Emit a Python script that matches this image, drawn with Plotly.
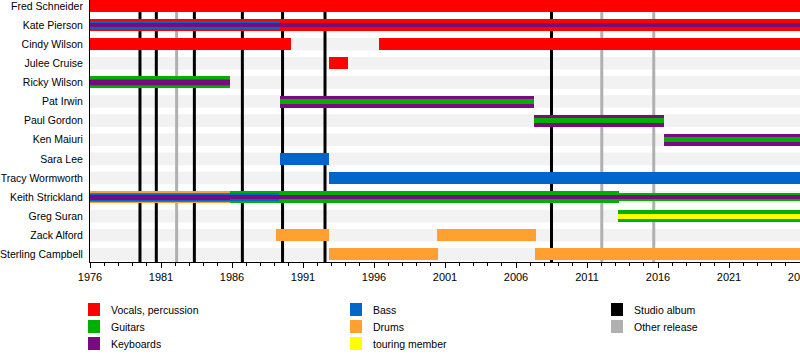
import plotly.graph_objects as go

# ---------------- data ----------------
members = ["Fred Schneider", "Kate Pierson", "Cindy Wilson", "Julee Cruise",
           "Ricky Wilson", "Pat Irwin", "Paul Gordon", "Ken Maiuri", "Sara Lee",
           "Tracy Wormworth", "Keith Strickland", "Greg Suran", "Zack Alford",
           "Sterling Campbell"]

stint_member = ["Fred Schneider", "Kate Pierson", "Kate Pierson", "Cindy Wilson",
                "Cindy Wilson", "Julee Cruise", "Ricky Wilson", "Pat Irwin",
                "Paul Gordon", "Ken Maiuri", "Sara Lee", "Tracy Wormworth",
                "Keith Strickland", "Keith Strickland", "Keith Strickland",
                "Keith Strickland", "Greg Suran", "Zack Alford", "Zack Alford",
                "Sterling Campbell", "Sterling Campbell"]
stint_start = [1976, 1976, 1989.4, 1976, 1996.35, 1992.8, 1976, 1989.4,
               2007.3, 2016.45, 1989.4, 1992.8, 1976, 1985.85, 1989.3,
               2013.25, 2013.2, 1989.1, 2000.45, 1992.8, 2007.35]
stint_end = [2026, 1989.4, 2026, 1990.15, 2026, 1994.15, 1985.85, 2007.3,
             2016.45, 2026, 1992.8, 2026, 1985.85, 1989.3, 2013.25,
             2026, 2026, 1992.8, 2007.4, 2000.5, 2026]
# roles listed from the outer stripe to the inner stripe
stint_roles = [["Vocals, percussion"],
               ["Vocals, percussion", "Bass", "Keyboards"],
               ["Vocals, percussion", "Keyboards"],
               ["Vocals, percussion"],
               ["Vocals, percussion"],
               ["Vocals, percussion"],
               ["Guitars", "Bass", "Keyboards"],
               ["Keyboards", "Guitars"],
               ["Keyboards", "Guitars"],
               ["Keyboards", "Guitars"],
               ["Bass"],
               ["Bass"],
               ["Drums", "Guitars", "Bass", "Keyboards"],
               ["Guitars", "Bass", "Keyboards"],
               ["Guitars", "Keyboards"],
               ["Guitars", "Keyboards"],
               ["Guitars", "touring member"],
               ["Drums"], ["Drums"], ["Drums"], ["Drums"]]
stint_studio_only = [False] * 15 + [True] + [False] * 5

studio_albums = [1979.52, 1980.67, 1983.35, 1986.73, 1989.56, 1992.55, 2008.5]
other_releases = [1982.1, 2012.04, 2015.7]

x_start, x_end = 1976, 2026
tick_years = list(range(1976, 2027, 5))
tick_labels = [str(y) for y in tick_years]

legend_cols = [["Vocals, percussion", "Guitars", "Keyboards"],
               ["Bass", "Drums", "touring member"],
               ["Studio album", "Other release"]]

# ---------------- styles ----------------
colors = {"Vocals, percussion": "#ff0000", "Guitars": "#00b000",
          "Keyboards": "#7a0a80", "Bass": "#0066cc", "Drums": "#ffa030",
          "touring member": "#ffff00", "Studio album": "#000000",
          "Other release": "#b0b0b0"}
layer_widths = {1: [0.63], 2: [0.63, 0.25], 3: [0.63, 0.38, 0.25],
                4: [0.63, 0.47, 0.37, 0.26]}
FONT = "Liberation Sans, Arial"
LABEL_SIZE = 10.5

row_of = {m: i for i, m in enumerate(members)}
n = len(members)
y_top, y_bottom = -0.314, n - 1 + 0.4

fig = go.Figure()

max_depth = max(len(r) for r in stint_roles)
for depth in range(max_depth):
    xs, ys, bases, cols, ws = [], [], [], [], []
    for m, s, e, roles, so in zip(stint_member, stint_start, stint_end,
                                  stint_roles, stint_studio_only):
        if depth >= len(roles):
            continue
        w = layer_widths[len(roles)][depth]
        if so:
            w = w * 0.6 if depth == 0 else w * 0.8
        xs.append(e - s)
        bases.append(s)
        ys.append(row_of[m])
        cols.append(colors[roles[depth]])
        ws.append(w)
    fig.add_trace(go.Bar(x=xs, y=ys, base=bases, orientation="h", width=ws,
                         marker=dict(color=cols, line=dict(width=0)),
                         showlegend=False, hoverinfo="skip"))

shapes = []
# row background bands
for i in range(n):
    shapes.append(dict(type="rect", xref="x", yref="y", x0=x_start, x1=x_end,
                       y0=i - 0.33, y1=i + 0.33, fillcolor="#f2f2f2",
                       line=dict(width=0), layer="below"))
for yr in other_releases:
    shapes.append(dict(type="line", xref="x", yref="y", x0=yr, x1=yr,
                       y0=y_top, y1=y_bottom,
                       line=dict(color=colors["Other release"], width=3),
                       layer="below"))
for yr in studio_albums:
    shapes.append(dict(type="line", xref="x", yref="y", x0=yr, x1=yr,
                       y0=y_top, y1=y_bottom,
                       line=dict(color=colors["Studio album"], width=3),
                       layer="below"))

# legend (pixel layout converted to paper coords)
PL, PT, PW, PH = 90, 0, 710, 262
def px2paper(px, py):
    return (px - PL) / PW, (PT + PH - py) / PH

annotations = []
col_x = [88, 350, 611]
row_y = [310, 327, 344]
for cx, items in zip(col_x, legend_cols):
    for ry, label in zip(row_y, items):
        x0, y0 = px2paper(cx, ry - 7)
        x1, y1 = px2paper(cx + 12, ry + 6)
        shapes.append(dict(type="rect", xref="paper", yref="paper",
                           x0=x0, x1=x1, y0=y0, y1=y1,
                           fillcolor=colors[label], line=dict(width=0)))
        tx, ty = px2paper(cx + 21, ry)
        annotations.append(dict(xref="paper", yref="paper", x=tx, y=ty,
                                text=label, showarrow=False, xanchor="left",
                                yanchor="middle",
                                font=dict(family=FONT, size=LABEL_SIZE, color="#000")))

fig.update_layout(
    width=800, height=355,
    margin=dict(l=PL, r=0, t=PT, b=355 - PH, pad=0),
    paper_bgcolor="white", plot_bgcolor="white",
    barmode="overlay", bargap=0,
    shapes=shapes, annotations=annotations,
    font=dict(family=FONT, size=LABEL_SIZE, color="#000"),
    xaxis=dict(range=[x_start, x_end], tickvals=tick_years, ticktext=tick_labels,
               showgrid=False, zeroline=False, showline=True, linecolor="#000",
               linewidth=1, ticks="outside", ticklen=5, tickcolor="#000",
               minor=dict(dtick=1, tick0=1976, ticks="outside", ticklen=3,
                          tickcolor="#000", showgrid=False),
               automargin=False, fixedrange=True, ticklabeloverflow="allow",
               tickfont=dict(family=FONT, size=11)),
    yaxis=dict(range=[y_bottom, y_top], tickvals=list(range(n)),
               ticktext=members, showgrid=False, zeroline=False,
               showline=True, linecolor="#000", linewidth=1, ticks="",
               automargin=False, fixedrange=True, ticklabelstandoff=4,
               ticklabeloverflow="allow",
               tickfont=dict(family=FONT, size=LABEL_SIZE)),
)

fig.write_html("out.html",
               config={"displayModeBar": False},
               post_script="document.body.style.margin='0';"
                           "document.body.style.overflow='hidden';")
